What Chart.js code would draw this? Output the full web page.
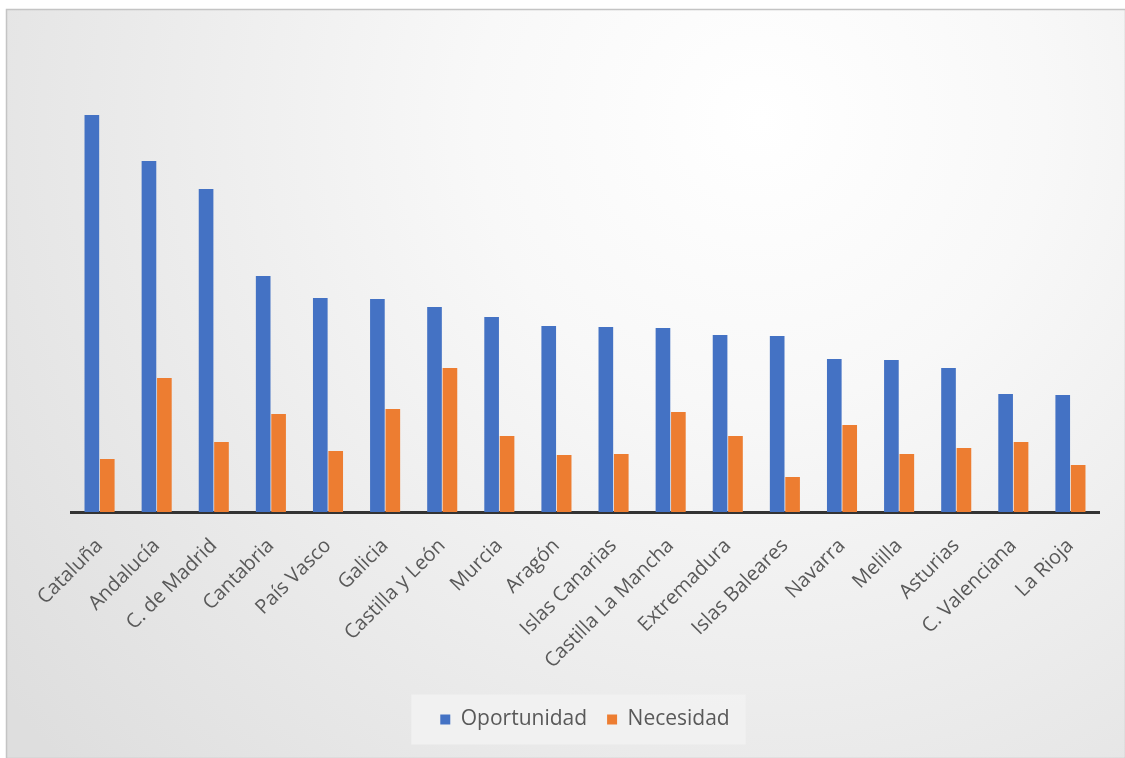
<!DOCTYPE html>
<html>
<head>
<meta charset="utf-8">
<script src="https://cdn.jsdelivr.net/npm/chart.js@4/dist/chart.umd.min.js"></script>
<style>
  html, body { margin: 0; padding: 0; background: #ffffff; }
  #wrap { position: absolute; left: 0; top: 0; width: 1125px; height: 758px; }
</style>
</head>
<body>
<div id="wrap"><canvas id="c" width="1125" height="758"></canvas></div>
<script>
const categories = ["Cataluña", "Andalucía", "C. de Madrid", "Cantabria", "País Vasco", "Galicia",
  "Castilla y León", "Murcia", "Aragón", "Islas Canarias", "Castilla La Mancha", "Extremadura",
  "Islas Baleares", "Navarra", "Melilla", "Asturias", "C. Valenciana", "La Rioja"];
const oportunidad = [39.7, 35.1, 32.3, 23.6, 21.4, 21.3, 20.5, 19.5, 18.6, 18.5, 18.4, 17.7, 17.6, 15.3, 15.2, 14.4, 11.8, 11.7];
const necesidad = [5.3, 13.4, 7.0, 9.8, 6.1, 10.3, 14.4, 7.6, 5.7, 5.8, 10.0, 7.6, 3.5, 8.7, 5.8, 6.4, 7.0, 4.7];
const seriesNames = ["Oportunidad", "Necesidad"];

const FONT = "'Open Sans', 'Liberation Sans', sans-serif";

const bgPlugin = {
  id: 'bg',
  beforeDraw(chart) {
    const ctx = chart.ctx;
    ctx.save();
    ctx.fillStyle = '#ffffff';
    ctx.fillRect(0, 0, chart.width, chart.height);
    const g = ctx.createRadialGradient(760, 120, 0, 760, 120, 950);
    g.addColorStop(0, '#ffffff');
    g.addColorStop(0.3, '#f8f8f8');
    g.addColorStop(0.7, '#e9e9e9');
    g.addColorStop(1, '#dedede');
    ctx.fillStyle = g;
    ctx.fillRect(6, 9, 1119, 749);
    ctx.strokeStyle = '#c4c4c4';
    ctx.lineWidth = 1.5;
    ctx.strokeRect(6.5, 9.5, 1119, 749);
    // legend backdrop
    const lg = chart.legend;
    if (lg && lg.legendHitBoxes && lg.legendHitBoxes.length) {
      const hb = lg.legendHitBoxes;
      const x0 = hb[0].left - 29;
      const x1 = hb[hb.length - 1].left + hb[hb.length - 1].width + 16;
      const cy = hb[0].top + hb[0].height / 2;
      ctx.fillStyle = 'rgba(242,242,242,0.9)';
      ctx.fillRect(x0, cy - 25, x1 - x0, 50);
    }
    ctx.restore();
  }
};

new Chart(document.getElementById('c'), {
  type: 'bar',
  data: {
    labels: categories,
    datasets: [
      { label: seriesNames[0], data: oportunidad, backgroundColor: '#4472c4', borderWidth: 0 },
      { label: seriesNames[1], data: necesidad, backgroundColor: '#ed7d31', borderWidth: 0 }
    ]
  },
  options: {
    responsive: false,
    animation: false,
    devicePixelRatio: 1,
    layout: { padding: { left: 71, right: 26, top: 62, bottom: 18 } },
    datasets: { bar: { categoryPercentage: 0.54, barPercentage: 0.95 } },
    plugins: {
      legend: {
        position: 'bottom',
        labels: {
          boxWidth: 10, boxHeight: 10, padding: 20,
          color: '#595959',
          font: { family: FONT, size: 21 }
        }
      },
      tooltip: { enabled: false }
    },
    scales: {
      x: {
        grid: { display: false, drawTicks: false },
        border: { display: true, color: '#333333', width: 3 },
        ticks: {
          autoSkip: false, maxRotation: 45, minRotation: 45, padding: 22,
          color: '#595959',
          font: { family: FONT, size: 20 }
        },
        afterFit(scale) { scale.height = 177; }
      },
      y: {
        display: false,
        min: 0, max: 45
      }
    }
  },
  plugins: [bgPlugin]
});
</script>
</body>
</html>
